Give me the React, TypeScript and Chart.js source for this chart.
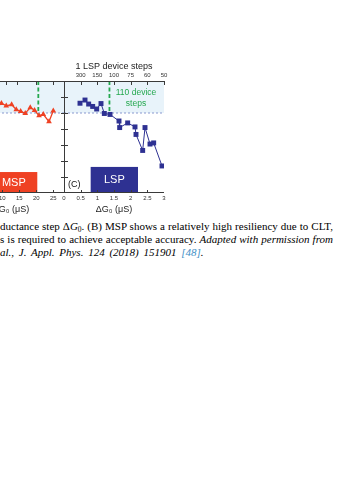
import React, { useEffect, useRef } from "react";
import { Chart, registerables } from "chart.js";
Chart.register(...registerables);

const FONT = "'Liberation Sans', Arial, sans-serif";

// ---------------- data ----------------
// LSP panel (C): conductance step ΔG0 (µS) vs accuracy
const lspDeltaG = [0.48, 0.63, 0.74, 0.86, 0.98, 1.11, 1.21, 1.38, 1.65, 1.67, 1.91, 2.13, 2.16, 2.36, 2.43, 2.58, 2.69, 2.94];
const lspAccuracy = [76.1, 78.1, 75.6, 74.1, 72.5, 75.9, 69.7, 69.1, 65.0, 60.9, 63.8, 61.3, 56.6, 46.6, 60.9, 50.6, 51.3, 36.9];
// MSP panel (B), partly visible
const mspDeltaG = [8.6, 9.76, 11.18, 12.76, 14.12, 15.41, 16.76, 18.24, 19.5, 20.82, 22.06, 23.74, 25.0];
const mspAccuracy = [75.5, 76.1, 74.5, 75.3, 72.1, 71.1, 69.8, 73.4, 71.7, 68.3, 69.2, 64.6, 71.4];

const lspBottomTicks = [0, 0.5, 1, 1.5, 2, 2.5, 3];
const lspDeviceSteps = [300, 150, 100, 75, 60, 50];
const lspRange = 150; // ΔG0 = range / steps
const mspBottomTicks = [0, 5, 10, 15, 20, 25];
const mspTopTicks = [11, 14.4, 19.8, 25];
const accuracyTicks = [30, 40, 50, 60, 70, 80];
const baselineAccuracy = 70;
const lspThresholdSteps = 110;
const mspThresholdDeltaG = 20.6;
const lspBox = { x0: 0.8, x1: 2.22, y0: 20, y1: 36.3, text: "LSP" };
const mspBox = { x0: 6.5, x1: 20.3, y0: 20, y1: 33.1, text: "MSP" };

const BLUE = "#2e3192";
const RED = "#ef4123";
const GREEN = "#25a84f";

function drawBand(chart: any, threshold: number) {
  const { ctx, chartArea: a, scales } = chart;
  const yb = scales.y.getPixelForValue(baselineAccuracy);
  ctx.save();
  ctx.fillStyle = "#e8f3fa";
  ctx.fillRect(a.left, a.top, a.right - a.left, yb - a.top);
  ctx.strokeStyle = "#6f80c2";
  ctx.lineWidth = 0.8;
  ctx.setLineDash([2, 2]);
  ctx.beginPath();
  ctx.moveTo(a.left, yb);
  ctx.lineTo(a.right, yb);
  ctx.stroke();
  const gx = scales.x.getPixelForValue(threshold);
  ctx.strokeStyle = GREEN;
  ctx.lineWidth = 1.8;
  ctx.setLineDash([4, 2.5]);
  ctx.beginPath();
  ctx.moveTo(gx, a.top);
  ctx.lineTo(gx, yb + 1);
  ctx.stroke();
  ctx.restore();
}

function drawBox(chart: any, b: any, color: string) {
  const { ctx, scales } = chart;
  const x0 = scales.x.getPixelForValue(b.x0);
  const x1 = scales.x.getPixelForValue(b.x1);
  const y0 = scales.y.getPixelForValue(b.y0);
  const y1 = scales.y.getPixelForValue(b.y1);
  ctx.save();
  ctx.fillStyle = color;
  ctx.fillRect(x0, y1, x1 - x0, y0 - y1);
  ctx.fillStyle = "#ffffff";
  ctx.font = `11px ${FONT}`;
  ctx.textAlign = "center";
  ctx.textBaseline = "middle";
  ctx.fillText(b.text, (x0 + x1) / 2, (y0 + y1) / 2 + 0.5);
  ctx.restore();
}

function drawFrame(chart: any, topTicks: number[], bottomTicks: number[], leftAxis: boolean) {
  const { ctx, chartArea: a, scales } = chart;
  ctx.save();
  ctx.strokeStyle = "#3a3a3a";
  ctx.lineWidth = 1;
  ctx.beginPath();
  ctx.moveTo(a.left, a.top + 0.5);
  ctx.lineTo(a.right, a.top + 0.5);
  ctx.moveTo(a.left, a.bottom - 0.5);
  ctx.lineTo(a.right, a.bottom - 0.5);
  if (leftAxis) {
    ctx.moveTo(a.left + 0.5, a.top);
    ctx.lineTo(a.left + 0.5, a.bottom);
  }
  for (const t of topTicks) {
    const x = Math.round(scales.x.getPixelForValue(t)) + 0.5;
    ctx.moveTo(x, a.top);
    ctx.lineTo(x, a.top + 4);
  }
  for (const t of bottomTicks) {
    const x = Math.round(scales.x.getPixelForValue(t)) + 0.5;
    ctx.moveTo(x, a.bottom);
    ctx.lineTo(x, a.bottom - 3);
  }
  if (leftAxis) {
    for (const v of accuracyTicks) {
      const y = Math.round(scales.y.getPixelForValue(v)) + 0.5;
      ctx.moveTo(a.left - 3, y);
      ctx.lineTo(a.left + 4, y);
    }
  }
  ctx.stroke();
  ctx.restore();
}

const lspPlugin = {
  id: "lspDecor",
  beforeDatasetsDraw(chart: any) {
    drawBand(chart, lspRange / lspThresholdSteps);
    drawBox(chart, lspBox, BLUE);
    const { ctx, chartArea: a, scales } = chart;
    ctx.save();
    ctx.fillStyle = GREEN;
    ctx.font = `8.5px ${FONT}`;
    ctx.textAlign = "center";
    ctx.textBaseline = "middle";
    const cx = scales.x.getPixelForValue(2.16);
    ctx.fillText("110 device", cx, scales.y.getPixelForValue(82.5));
    ctx.fillText("steps", cx, scales.y.getPixelForValue(75.6));
    ctx.fillStyle = "#111";
    ctx.font = `9px ${FONT}`;
    ctx.textAlign = "left";
    ctx.fillText("(C)", a.left + 4, a.bottom - 8);
    ctx.restore();
  },
  afterDatasetsDraw(chart: any) {
    drawFrame(chart, lspDeviceSteps.map((n) => lspRange / n), lspBottomTicks.slice(1, -1), true);
  },
};

const mspPlugin = {
  id: "mspDecor",
  beforeDatasetsDraw(chart: any) {
    drawBand(chart, mspThresholdDeltaG);
    drawBox(chart, mspBox, RED);
  },
  afterDatasetsDraw(chart: any) {
    drawFrame(chart, mspTopTicks, mspBottomTicks.slice(1), false);
  },
};

const tickFont = { size: 6, family: FONT };
const titleFont = { size: 9, family: FONT };

export default function App() {
  const lspRef = useRef<HTMLCanvasElement>(null);
  const mspRef = useRef<HTMLCanvasElement>(null);

  useEffect(() => {
    const msp = new Chart(mspRef.current!, {
      type: "line",
      data: {
        datasets: [
          {
            data: mspDeltaG.map((x, i) => ({ x, y: mspAccuracy[i] })),
            borderColor: RED,
            backgroundColor: RED,
            borderWidth: 1.3,
            pointStyle: "triangle",
            pointRadius: 3.3,
            pointBorderWidth: 0,
          },
        ],
      },
      options: {
        animation: false,
        responsive: false,
        layout: { padding: { left: 8, right: 6, top: 26, bottom: 0 } },
        plugins: { legend: { display: false }, tooltip: { enabled: false } },
        scales: {
          x: {
            type: "linear",
            min: -3,
            max: 28.15,
            afterBuildTicks: (s: any) => {
              s.ticks = mspBottomTicks.map((v) => ({ value: v }));
            },
            ticks: { font: tickFont, color: "#333", padding: 2, autoSkip: false, maxRotation: 0, callback: (v: any) => String(v) },
            grid: { display: false, drawTicks: false },
            border: { display: false },
            title: { display: true, text: "ΔG₀ (μS)", font: titleFont, color: "#222", padding: { top: 0, bottom: 5 } },
            afterFit: (s: any) => {
              s.height = 27;
            },
          },
          y: { display: false, min: 20, max: 90 },
        },
      },
      plugins: [mspPlugin],
    } as any);

    const lsp = new Chart(lspRef.current!, {
      type: "line",
      data: {
        datasets: [
          {
            data: lspDeltaG.map((x, i) => ({ x, y: lspAccuracy[i] })),
            borderColor: BLUE,
            backgroundColor: BLUE,
            borderWidth: 1,
            pointStyle: "rect",
            pointRadius: 3.5,
            pointBorderWidth: 0,
            xAxisID: "x",
            yAxisID: "y",
          },
        ],
      },
      options: {
        animation: false,
        responsive: false,
        layout: { padding: { left: 24, right: 11, top: 0, bottom: 0 } },
        plugins: { legend: { display: false }, tooltip: { enabled: false } },
        scales: {
          x: {
            type: "linear",
            position: "bottom",
            min: 0,
            max: 3,
            afterBuildTicks: (s: any) => {
              s.ticks = lspBottomTicks.map((v) => ({ value: v }));
            },
            ticks: { font: tickFont, color: "#333", padding: 2, autoSkip: false, maxRotation: 0, callback: (v: any) => String(v) },
            grid: { display: false, drawTicks: false },
            border: { display: false },
            title: { display: true, text: "ΔG₀ (μS)", font: titleFont, color: "#222", padding: { top: 0, bottom: 5 } },
            afterFit: (s: any) => {
              s.height = 27;
            },
          },
          x2: {
            type: "linear",
            position: "top",
            min: 0,
            max: 3,
            afterBuildTicks: (s: any) => {
              s.ticks = lspDeviceSteps.map((n) => ({ value: lspRange / n }));
            },
            ticks: {
              font: tickFont,
              color: "#333",
              padding: 2,
              autoSkip: false,
              maxRotation: 0,
              callback: (v: any) => String(Math.round(lspRange / Number(v))),
            },
            grid: { display: false, drawTicks: false },
            border: { display: false },
            title: { display: true, text: "1 LSP device steps", font: titleFont, color: "#222", padding: { top: 6.6, bottom: 0 } },
            afterFit: (s: any) => {
              s.height = 26;
            },
          },
          y: { display: false, min: 20, max: 90 },
        },
      },
      plugins: [lspPlugin],
    } as any);

    return () => {
      msp.destroy();
      lsp.destroy();
    };
  }, []);

  const serif = "'Liberation Serif', 'Times New Roman', serif";
  const lineStyle: React.CSSProperties = {
    textAlign: "justify",
    textAlignLast: "justify" as any,
    whiteSpace: "nowrap",
    height: 13,
  };

  return (
    <div style={{ position: "fixed", left: 0, top: 0, width: 359, height: 480, background: "#fff", overflow: "hidden" }}>
      <canvas ref={mspRef} width={120} height={165} style={{ position: "absolute", left: -50, top: 55 }} />
      <canvas ref={lspRef} width={135} height={165} style={{ position: "absolute", left: 40, top: 55 }} />
      <div
        style={{
          position: "absolute",
          left: 0,
          top: 220,
          width: 333,
          fontFamily: serif,
          fontSize: 11,
          lineHeight: "13px",
          color: "#000",
        }}
      >
        <div style={lineStyle}>
          ductance step Δ<i>G</i>
          <sub style={{ fontSize: 7.5, verticalAlign: "-2px", lineHeight: 0 }}>0</sub>. (B) MSP shows a relatively high resiliency due to CLT,
        </div>
        <div style={lineStyle}>
          s is required to achieve acceptable accuracy. <i>Adapted with permission from</i>
        </div>
        <div style={{ height: 13, whiteSpace: "nowrap", wordSpacing: 2 }}>
          <i>al., J. Appl. Phys. 124 (2018) 151901 </i>
          <i style={{ color: "#3d8fc6" }}>[48]</i>
          <i>.</i>
        </div>
      </div>
    </div>
  );
}
